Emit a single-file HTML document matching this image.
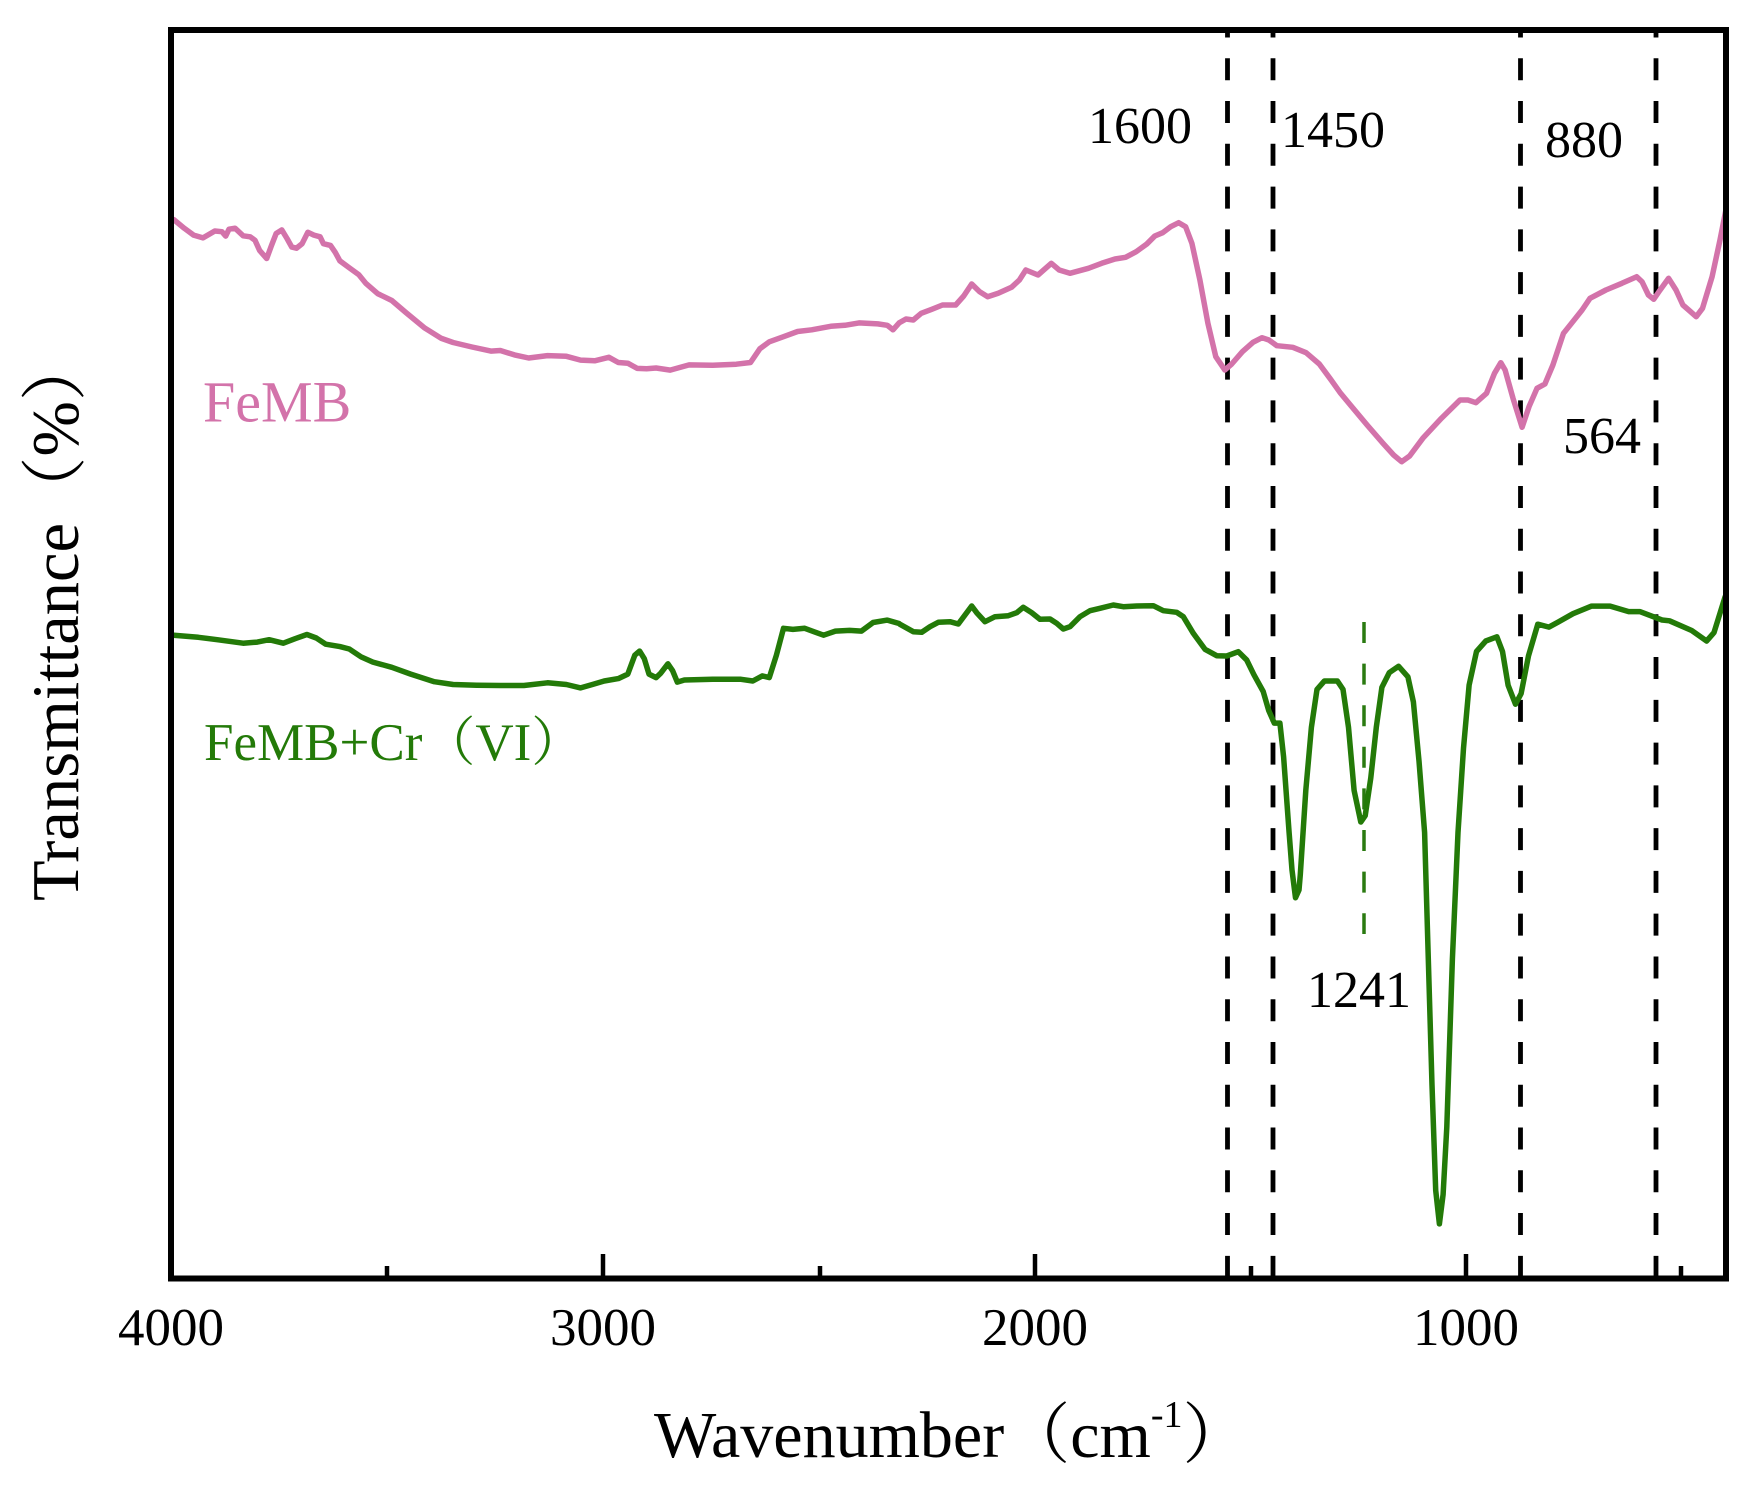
<!DOCTYPE html>
<html>
<head>
<meta charset="utf-8">
<style>
html,body{margin:0;padding:0;background:#fff;}
svg{display:block;}
text{font-family:"Liberation Serif","Noto Serif CJK SC",serif;}
</style>
</head>
<body>
<svg width="1753" height="1491" viewBox="0 0 1753 1491" xmlns="http://www.w3.org/2000/svg">
<rect x="0" y="0" width="1753" height="1491" fill="#ffffff"/>

<!-- dashed reference lines -->
<g stroke="#000" stroke-width="4.8" stroke-dasharray="22 20.77" stroke-dashoffset="14.5" fill="none">
<line x1="1227.5" y1="30" x2="1227.5" y2="1278"/>
<line x1="1273" y1="30" x2="1273" y2="1278"/>
<line x1="1520.5" y1="30" x2="1520.5" y2="1278"/>
<line x1="1656" y1="30" x2="1656" y2="1278"/>
</g>
<line x1="1364" y1="622" x2="1364" y2="934" stroke="#2a7a10" stroke-width="3.5" stroke-dasharray="21 20.6" fill="none"/>

<!-- FeMB curve -->
<polyline fill="none" stroke="#d373aa" stroke-width="5.5" stroke-linejoin="round" stroke-linecap="round" points="173.8,219.6 184.2,228.2 193.6,235.1 203,237.9 214.8,231 221.9,231.7 225.7,236.1 229,229.2 235.1,228.2 243.1,235.8 250.2,236.8 255,240.3 259.7,250.6 266.7,258.5 271.5,245.4 276.2,233.4 281.8,229.9 287,238.5 291.8,247.1 296.5,248.2 302.1,243.7 307.8,232.3 313.9,235.1 320.1,236.8 323.4,243.7 330.5,245.4 335.2,252.3 339.9,260.9 349.3,267.8 358.8,274.7 365.8,283.3 377.6,293.6 391.8,300.5 406,312.6 424.8,328.1 441.4,338.4 453.1,342.5 472,347 490.9,351.1 500.3,350.5 514.5,354.9 528.7,358 547.5,355.6 566.4,356.3 580.6,360.1 594.7,360.8 608.9,357.3 618.3,362.5 627.8,363.2 637.2,368.4 646.6,368.7 656.1,368 670.2,370.1 689.1,364.9 712.7,365.3 736.3,364.2 750.5,362.5 759.9,348.7 769.3,341.8 783.5,336.7 797.6,331.5 811.8,329.8 830.7,326.3 844.9,325.3 859,322.9 877.9,323.9 887.3,325.3 893,329.8 899.1,322.9 906,319 913.3,320 921.2,313.3 931.8,309.3 942.5,305 955.7,305 963.7,296 971.7,284 979.6,291.7 987.6,296.7 998.2,293.3 1011.5,287.3 1019.4,280 1025.8,270 1038,275 1051.3,263.3 1059.2,270 1069.9,273.3 1088.4,268.3 1101.7,263.3 1115,259 1125.6,257.3 1136.2,251.7 1146.8,244 1154.8,236 1162.7,232.7 1170.7,226.7 1178.7,222.7 1185.6,226.7 1191.9,243.3 1199.9,280 1207.9,323.3 1215.8,356.7 1224.8,370 1231.7,364 1242.4,351.7 1253,342.3 1262,337.7 1268.9,340 1276.9,345.7 1292.8,347.3 1306.1,352.7 1319.3,364 1329.9,378.3 1340.6,393.3 1351.2,406 1367.1,425 1383,443.3 1393.6,455 1401.6,461.7 1409.6,456 1422.8,438.3 1441.4,418.3 1460,400 1467.9,400 1475.9,402.7 1486.5,393.3 1494.5,373.3 1500.8,362.7 1505.1,370 1513,398.3 1522.1,427.3 1529,406.7 1537,388.3 1544.9,384 1552.9,365 1563.5,333.3 1571.5,323.3 1582.1,310 1590,298.3 1605.9,290 1621.9,283.3 1636.7,276.7 1642,281.7 1648.4,295 1653.7,299.3 1660.1,290 1668.6,278.3 1676,290 1682.9,305 1689.8,311 1696.2,316.7 1702.5,308.3 1712.1,276.7 1720,240 1725.9,210"/>

<!-- FeMB+Cr(VI) curve -->
<polyline fill="none" stroke="#237a08" stroke-width="5.5" stroke-linejoin="round" stroke-linecap="round" points="173.8,635.2 198.3,637.3 217.2,639.7 243.1,643.2 257.3,642.1 269.1,639.7 283.3,643.2 295.1,638.7 306.9,634.5 316.3,638 325.7,644.2 339.9,646.6 349.3,649 361.1,656.9 372.9,662.1 391.8,667.3 410.7,674.1 434.3,681.7 453.1,684.5 476.7,685.2 500.3,685.5 523.9,685.5 547.5,682.8 566.4,684.5 580.6,687.9 592.4,684.5 604.2,681 618.3,678.6 627.8,674.1 634.8,655.2 639.6,651.1 644.3,658.7 649,674.1 656.1,677.6 660.8,673.1 667.9,663.8 672.6,670.7 677.3,682.1 684.4,680 712.7,679.3 741,679.3 752.8,681 762.3,675.9 769.3,677.6 776.4,655.2 783.5,628.3 792.9,629.4 804.7,628.3 814.2,631.8 823.6,635.2 835.4,631.1 849.6,630.4 861.4,631.1 873.1,622.5 887.3,620.1 899.1,623.5 900,624.3 913.3,631.7 921.7,632.3 930,626.7 938.3,622.3 950,621.7 958.3,624 965,615 971.7,606 976.7,612.7 985,621.7 995,616.7 1008.3,615.7 1016.7,612.7 1023.3,607.3 1031.7,612.7 1040,619.3 1050,619 1056.7,623.3 1063.3,629 1070,626.7 1080,616.7 1090,610.7 1100,608.3 1113.3,605 1123.3,606.7 1136.7,606 1153.3,605.7 1163.3,610.7 1176.7,612.3 1183.3,616.7 1193.3,633.3 1205,649.3 1216.7,655.7 1226.7,656 1238.3,651.7 1246.7,660 1253.9,674.7 1263.2,691.5 1268.7,710.5 1274.3,723.1 1279.9,723.1 1283.6,756.8 1289.1,832.5 1292,870 1295.5,897.8 1299,890 1300.3,874.6 1305.8,790.4 1311.4,727.3 1317,689.4 1324.4,681 1337.4,681 1343,689.4 1348.5,727.3 1354.1,790.4 1360.8,822 1365.2,815.7 1370.8,777.8 1376.3,727.3 1381.9,687.3 1389.3,672.6 1398.6,666.3 1407.9,676.8 1413.4,702 1419,761 1424.6,832.5 1428.3,958.8 1432,1085 1435.7,1190.3 1439.4,1223.9 1443.1,1194.5 1446.8,1127.1 1452.4,958.8 1458,832.5 1463.5,748.3 1469.1,685.2 1476.5,651.5 1485.8,641 1496.9,636.8 1502.5,651.5 1508.1,685.2 1515.5,704.2 1521.1,693.6 1528.5,655.8 1537.8,624.2 1549,627.1 1558.2,622.1 1573,613.7 1591.6,606.1 1610.1,606.1 1628.7,611.6 1639.8,611.6 1662,620 1669.5,620.8 1691.7,630.5 1706.6,641 1714,632.6 1725.1,596.8"/>

<!-- axes frame -->
<rect x="171" y="30" width="1555" height="1248.5" fill="none" stroke="#000" stroke-width="6"/>

<!-- ticks -->
<g stroke="#000" stroke-width="4.5">
<line x1="603" y1="1276" x2="603" y2="1254"/>
<line x1="1035" y1="1276" x2="1035" y2="1254"/>
<line x1="1466" y1="1276" x2="1466" y2="1254"/>
<line x1="387" y1="1276" x2="387" y2="1266"/>
<line x1="820" y1="1276" x2="820" y2="1266"/>
<line x1="1251" y1="1276" x2="1251" y2="1266"/>
<line x1="1681" y1="1276" x2="1681" y2="1266"/>
</g>

<!-- tick labels -->
<g font-size="53" fill="#000" text-anchor="middle">
<text x="171" y="1345">4000</text>
<text x="603" y="1345">3000</text>
<text x="1035" y="1345">2000</text>
<text x="1466" y="1345">1000</text>
</g>

<!-- peak labels -->
<g font-size="52" fill="#000">
<text x="1088" y="143">1600</text>
<text x="1281" y="147">1450</text>
<text x="1545" y="157">880</text>
<text x="1563" y="453">564</text>
<text x="1307" y="1007">1241</text>
</g>

<!-- series labels -->
<text x="203" y="421.7" font-size="58" fill="#d373aa">FeMB</text>
<text x="204" y="760" font-size="53" fill="#237a08">FeMB+Cr（VI）</text>

<!-- axis titles -->
<text x="654" y="1457" font-size="66" fill="#000">Wavenumber（cm<tspan font-size="38" dy="-30">-1</tspan><tspan dy="30">）</tspan></text>
<text transform="translate(78,901) rotate(-90)" font-size="66.5" fill="#000">Transmittance（%）</text>
</svg>
</body>
</html>
